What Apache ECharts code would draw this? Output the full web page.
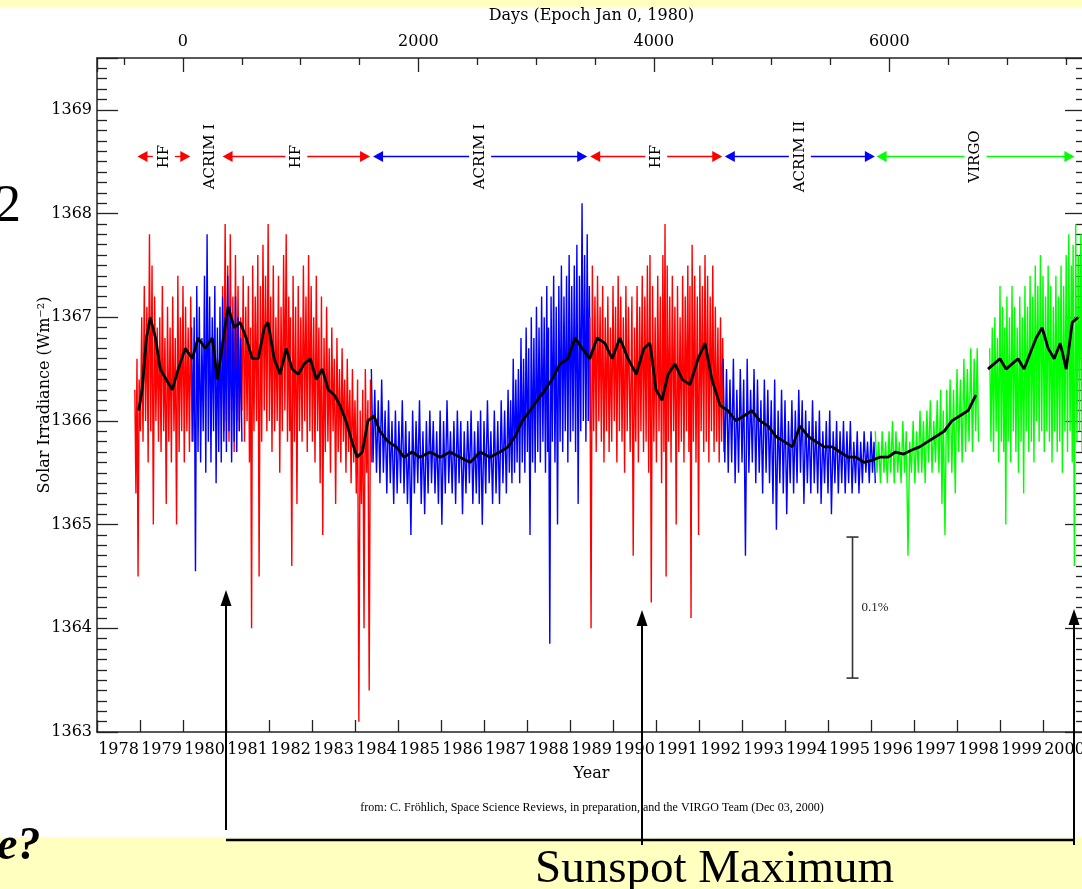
<!DOCTYPE html>
<html>
<head>
<meta charset="utf-8">
<script src="https://cdn.jsdelivr.net/npm/echarts@6/dist/echarts.min.js"></script>
<style>
html,body{margin:0;padding:0;background:#fff;}
#chart{width:1082px;height:889px;}
</style>
</head>
<body>
<div id="chart"></div>
<script>
// ---------- DATA ----------
// daily-value envelopes per instrument segment: [year, high, low]
const hfEarly = [
[1978.88,1366.3,1365.3],[1978.93,1366.6,1364.5],[1978.98,1366.4,1365.9],[1979.04,1367.0,1365.8],
[1979.10,1367.3,1366.0],[1979.16,1367.1,1365.6],[1979.22,1367.8,1365.9],[1979.28,1367.5,1365.0],
[1979.34,1367.2,1366.0],[1979.40,1366.9,1365.8],[1979.46,1367.0,1365.7],[1979.52,1367.3,1365.9],
[1979.58,1366.8,1365.2],[1979.64,1367.1,1365.8],[1979.70,1366.9,1365.6],[1979.76,1367.2,1365.9],
[1979.82,1366.8,1365.0],[1979.88,1367.4,1365.7],[1979.94,1367.0,1365.9],[1980.00,1367.3,1365.6],
[1980.06,1367.1,1365.9],[1980.12,1366.9,1365.7],[1980.18,1367.2,1365.8]
];
const acrimEarly = [
[1980.20,1366.9,1365.8],[1980.26,1367.0,1364.55],[1980.32,1367.3,1365.7],[1980.38,1367.1,1365.6],
[1980.44,1366.8,1365.9],[1980.50,1367.4,1365.5],[1980.56,1367.8,1365.8],[1980.62,1367.2,1365.6],
[1980.68,1367.0,1365.9],[1980.74,1367.3,1365.4],[1980.80,1366.9,1365.7],[1980.86,1367.1,1365.6],
[1980.92,1367.2,1365.8],[1980.98,1367.0,1365.7],[1981.04,1367.4,1365.9],[1981.10,1367.1,1365.6],
[1981.16,1366.9,1365.8],[1981.22,1367.2,1365.7],[1981.28,1367.0,1365.9],[1981.34,1366.8,1365.8]
];
const hfMid = [
[1980.92,1367.3,1365.9],[1980.98,1367.9,1366.0],[1981.04,1367.5,1365.8],[1981.10,1367.8,1366.1],
[1981.16,1367.2,1365.7],[1981.22,1367.6,1366.0],[1981.28,1367.3,1365.9],[1981.34,1367.0,1366.1],
[1981.40,1367.4,1365.8],[1981.46,1367.1,1366.0],[1981.52,1367.3,1365.6],[1981.57,1366.9,1364.0],
[1981.62,1367.5,1365.9],[1981.68,1367.2,1366.0],[1981.74,1367.6,1364.5],[1981.80,1367.3,1365.8],
[1981.86,1367.7,1366.1],[1981.92,1367.4,1365.9],[1981.98,1367.9,1366.0],[1982.04,1367.2,1365.7],
[1982.10,1367.5,1365.9],[1982.16,1367.0,1366.0],[1982.22,1367.4,1365.5],[1982.28,1367.1,1365.9],
[1982.34,1367.6,1366.1],[1982.40,1367.8,1365.8],[1982.46,1367.2,1365.9],[1982.50,1367.0,1364.6],
[1982.56,1367.4,1365.8],[1982.62,1367.1,1365.2],[1982.68,1367.3,1365.9],[1982.74,1367.0,1365.8],
[1982.80,1367.5,1366.0],[1982.86,1367.2,1365.7],[1982.92,1367.6,1365.9],[1982.98,1367.3,1365.8],
[1983.04,1367.0,1365.6],[1983.10,1367.4,1365.9],[1983.16,1366.9,1365.4],[1983.22,1367.2,1364.9],
[1983.28,1366.8,1365.7],[1983.34,1367.1,1365.8],[1983.40,1366.7,1365.5],[1983.46,1366.9,1365.9],
[1983.52,1366.6,1365.2],[1983.58,1366.8,1365.7],[1983.64,1366.5,1365.6],[1983.70,1366.7,1365.8],
[1983.76,1366.4,1365.5],[1983.82,1366.6,1365.7],[1983.88,1366.3,1365.4],[1983.94,1366.5,1365.6],
[1984.00,1366.2,1365.3],[1984.06,1366.4,1363.1],[1984.12,1366.1,1365.2],[1984.18,1366.3,1364.0],
[1984.24,1366.5,1365.5],[1984.30,1366.2,1363.4],[1984.36,1366.4,1365.6]
];
const acrimOne = [
[1984.38,1366.5,1365.6],[1984.46,1366.3,1365.5],[1984.54,1366.2,1365.4],[1984.62,1366.4,1365.5],
[1984.70,1366.1,1365.3],[1984.78,1366.2,1365.4],[1984.86,1366.0,1365.2],[1984.94,1366.1,1365.3],
[1985.02,1366.0,1365.4],[1985.10,1366.2,1365.3],[1985.18,1366.0,1365.2],[1985.26,1365.9,1364.9],
[1985.34,1366.1,1365.3],[1985.42,1366.0,1365.4],[1985.50,1366.2,1365.2],[1985.58,1365.9,1365.1],
[1985.66,1366.0,1365.3],[1985.74,1366.1,1365.4],[1985.82,1366.0,1365.3],[1985.90,1365.9,1365.2],
[1985.98,1366.1,1365.0],[1986.06,1366.0,1365.3],[1986.14,1366.2,1365.4],[1986.22,1365.9,1365.3],
[1986.30,1366.0,1365.2],[1986.38,1366.1,1365.4],[1986.46,1366.0,1365.1],[1986.54,1365.9,1365.3],
[1986.62,1366.0,1365.4],[1986.70,1366.1,1365.2],[1986.78,1365.9,1365.3],[1986.86,1366.0,1365.2],
[1986.92,1366.1,1365.0],[1987.00,1366.0,1365.3],[1987.08,1366.2,1365.4],[1987.16,1365.9,1365.2],
[1987.24,1366.1,1365.3],[1987.32,1366.0,1365.2],[1987.40,1366.2,1365.4],[1987.48,1366.1,1365.3],
[1987.56,1366.3,1365.5],[1987.62,1366.2,1365.4],[1987.68,1366.6,1365.5],[1987.74,1366.4,1365.6],
[1987.80,1366.5,1365.4],[1987.86,1366.8,1365.6],[1987.92,1366.6,1365.5],[1987.98,1366.9,1365.7],
[1988.04,1366.7,1364.9],[1988.10,1367.0,1365.6],[1988.16,1366.8,1365.5],[1988.22,1367.1,1365.7],
[1988.28,1366.9,1365.6],[1988.34,1367.2,1365.8],[1988.40,1367.0,1365.5],[1988.46,1367.3,1365.7],
[1988.50,1366.9,1363.85],[1988.56,1367.2,1365.8],[1988.62,1367.4,1365.6],[1988.68,1367.1,1365.0],
[1988.74,1367.3,1365.8],[1988.80,1367.5,1365.7],[1988.86,1367.2,1365.9],[1988.92,1367.4,1365.6],
[1988.98,1367.6,1365.8],[1989.04,1367.3,1365.9],[1989.10,1367.5,1365.7],[1989.16,1367.7,1365.2],
[1989.22,1367.4,1365.9],[1989.28,1368.1,1366.0],[1989.34,1367.6,1365.8],[1989.40,1367.8,1366.0],
[1989.45,1367.3,1365.9]
];
const hfLate = [
[1989.46,1367.0,1364.0],[1989.52,1367.5,1365.9],[1989.58,1367.2,1365.7],[1989.64,1367.4,1366.0],
[1989.70,1367.1,1365.8],[1989.76,1367.3,1365.6],[1989.82,1367.0,1365.9],[1989.88,1367.2,1365.7],
[1989.94,1366.9,1365.8],[1990.00,1367.3,1366.0],[1990.06,1367.1,1365.6],[1990.12,1367.4,1365.9],
[1990.18,1367.2,1365.8],[1990.24,1367.0,1365.5],[1990.30,1367.3,1365.9],[1990.36,1367.1,1365.7],
[1990.44,1367.2,1364.7],[1990.50,1366.9,1365.8],[1990.56,1367.3,1365.6],[1990.62,1367.1,1365.9],
[1990.68,1367.4,1365.7],[1990.74,1367.2,1365.8],[1990.80,1367.5,1365.5],[1990.86,1367.6,1364.25],
[1990.92,1367.3,1365.8],[1990.98,1367.0,1365.6],[1991.04,1367.4,1365.9],[1991.10,1367.2,1365.4],
[1991.16,1367.6,1365.7],[1991.21,1367.9,1364.5],[1991.26,1367.5,1365.8],[1991.32,1367.2,1365.6],
[1991.38,1367.4,1365.9],[1991.44,1367.1,1365.0],[1991.50,1367.3,1365.7],[1991.56,1367.0,1365.8],
[1991.62,1367.4,1365.6],[1991.68,1367.2,1365.9],[1991.74,1367.5,1365.7],[1991.79,1367.3,1364.1],
[1991.84,1367.7,1365.8],[1991.90,1367.4,1365.6],[1991.96,1367.2,1364.9],[1992.02,1367.5,1365.9],
[1992.08,1367.3,1365.7],[1992.14,1367.6,1365.8],[1992.20,1367.4,1365.6],[1992.26,1367.2,1365.9],
[1992.32,1367.5,1365.7],[1992.38,1367.1,1365.8],[1992.44,1366.9,1365.6],[1992.50,1367.0,1365.8],
[1992.55,1366.8,1365.7]
];
const acrimTwo = [
[1992.56,1366.6,1365.6],[1992.64,1366.5,1365.5],[1992.72,1366.4,1365.6],[1992.80,1366.6,1365.4],
[1992.88,1366.3,1365.5],[1992.96,1366.5,1365.6],[1993.04,1366.4,1364.7],[1993.12,1366.6,1365.5],
[1993.20,1366.3,1365.6],[1993.28,1366.5,1365.4],[1993.36,1366.4,1365.5],[1993.44,1366.2,1365.3],
[1993.52,1366.4,1365.5],[1993.60,1366.3,1365.4],[1993.68,1366.2,1365.2],[1993.76,1366.4,1364.95],
[1993.84,1366.1,1365.4],[1993.92,1366.3,1365.3],[1994.00,1366.2,1365.1],[1994.08,1366.0,1365.4],
[1994.16,1366.2,1365.3],[1994.24,1366.1,1365.4],[1994.32,1366.3,1365.5],[1994.40,1366.2,1365.2],
[1994.48,1366.1,1365.4],[1994.56,1366.0,1365.3],[1994.64,1366.2,1365.4],[1994.72,1366.0,1365.3],
[1994.80,1366.1,1365.2],[1994.88,1365.9,1365.4],[1994.96,1366.0,1365.3],[1995.04,1366.1,1365.1],
[1995.12,1365.9,1365.4],[1995.20,1366.0,1365.3],[1995.28,1365.9,1365.4],[1995.36,1366.0,1365.3],
[1995.44,1365.9,1365.4],[1995.52,1366.0,1365.3],[1995.60,1365.8,1365.4],[1995.68,1365.9,1365.3],
[1995.76,1365.8,1365.4],[1995.84,1365.9,1365.5],[1995.92,1365.8,1365.4],[1996.00,1365.9,1365.5],
[1996.07,1365.8,1365.4]
];
const virgoA = [
[1996.10,1365.9,1365.5],[1996.18,1365.8,1365.4],[1996.26,1365.9,1365.5],[1996.34,1365.8,1365.4],
[1996.42,1365.9,1365.5],[1996.50,1366.0,1365.4],[1996.58,1365.9,1365.5],[1996.66,1365.8,1365.4],
[1996.74,1366.0,1365.5],[1996.82,1365.9,1364.7],[1996.90,1365.8,1365.5],[1996.98,1366.0,1365.4],
[1997.06,1365.9,1365.5],[1997.14,1366.1,1365.5],[1997.22,1366.0,1365.4],[1997.30,1366.1,1365.6],
[1997.38,1366.2,1365.5],[1997.46,1366.0,1365.6],[1997.54,1366.2,1365.5],[1997.62,1366.3,1365.2],
[1997.68,1366.1,1364.9],[1997.76,1366.3,1365.6],[1997.84,1366.4,1365.5],[1997.92,1366.3,1365.3],
[1998.00,1366.5,1365.7],[1998.08,1366.4,1365.6],[1998.16,1366.6,1365.7],[1998.24,1366.5,1365.8],
[1998.32,1366.7,1365.7],[1998.40,1366.6,1365.9],[1998.47,1366.7,1365.8]
];
const virgoB = [
[1998.76,1366.7,1365.8],[1998.82,1366.9,1365.7],[1998.88,1367.0,1365.9],[1998.94,1366.8,1365.6],
[1999.00,1367.3,1365.8],[1999.06,1367.1,1365.7],[1999.11,1366.9,1365.0],[1999.16,1367.2,1365.8],
[1999.22,1367.0,1365.6],[1999.28,1367.3,1365.9],[1999.34,1367.1,1365.7],[1999.40,1366.9,1365.5],
[1999.46,1367.2,1365.8],[1999.52,1367.0,1365.3],[1999.58,1367.3,1365.9],[1999.64,1367.1,1365.7],
[1999.70,1367.4,1365.8],[1999.76,1367.2,1365.6],[1999.82,1367.5,1366.0],[1999.88,1367.3,1365.8],
[1999.94,1367.6,1365.9],[2000.00,1367.4,1365.7],[2000.06,1367.2,1365.9],[2000.12,1367.5,1365.8],
[2000.18,1367.3,1365.6],[2000.24,1367.1,1365.9],[2000.30,1367.4,1365.7],[2000.36,1367.2,1365.8],
[2000.42,1367.5,1365.5],[2000.48,1367.3,1365.9],[2000.54,1367.6,1365.7],[2000.60,1367.8,1365.9],
[2000.66,1367.5,1365.6],[2000.70,1367.7,1364.6],[2000.76,1367.9,1365.8],[2000.82,1367.6,1365.9],
[2000.88,1367.8,1365.7]
];
// 81-day running mean (black), two pieces around the SOHO gap
const meanA = [
[1978.97,1366.1],[1979.05,1366.3],[1979.15,1366.8],[1979.24,1367.0],[1979.36,1366.8],[1979.47,1366.5],
[1979.61,1366.4],[1979.75,1366.3],[1979.89,1366.5],[1980.05,1366.7],[1980.22,1366.6],[1980.35,1366.8],
[1980.52,1366.7],[1980.68,1366.8],[1980.80,1366.4],[1980.94,1366.8],[1981.05,1367.1],[1981.19,1366.9],
[1981.33,1366.95],[1981.47,1366.8],[1981.61,1366.6],[1981.75,1366.6],[1981.89,1366.9],[1981.98,1366.95],
[1982.12,1366.6],[1982.26,1366.45],[1982.40,1366.7],[1982.54,1366.5],[1982.68,1366.45],[1982.82,1366.55],
[1982.96,1366.6],[1983.10,1366.4],[1983.24,1366.5],[1983.38,1366.3],[1983.52,1366.25],[1983.65,1366.15],
[1983.79,1366.0],[1983.93,1365.8],[1984.05,1365.65],[1984.17,1365.7],[1984.30,1366.0],[1984.44,1366.05],
[1984.58,1365.9],[1984.77,1365.8],[1984.96,1365.75],[1985.14,1365.65],[1985.33,1365.7],[1985.51,1365.65],
[1985.75,1365.7],[1985.98,1365.65],[1986.21,1365.7],[1986.44,1365.65],[1986.68,1365.6],[1986.91,1365.7],
[1987.14,1365.65],[1987.37,1365.7],[1987.56,1365.75],[1987.72,1365.85],[1987.89,1366.0],[1988.07,1366.1],
[1988.24,1366.2],[1988.42,1366.3],[1988.58,1366.4],[1988.77,1366.55],[1988.95,1366.6],[1989.12,1366.8],
[1989.28,1366.7],[1989.46,1366.6],[1989.63,1366.8],[1989.81,1366.75],[1989.98,1366.6],[1990.16,1366.8],
[1990.35,1366.6],[1990.54,1366.45],[1990.72,1366.7],[1990.86,1366.75],[1991.00,1366.3],[1991.14,1366.2],
[1991.28,1366.45],[1991.44,1366.55],[1991.61,1366.4],[1991.79,1366.35],[1991.98,1366.6],[1992.14,1366.75],
[1992.30,1366.4],[1992.49,1366.15],[1992.67,1366.1],[1992.86,1366.0],[1993.05,1366.05],[1993.23,1366.1],
[1993.42,1366.0],[1993.61,1365.95],[1993.79,1365.85],[1993.98,1365.8],[1994.17,1365.75],[1994.35,1365.95],
[1994.54,1365.85],[1994.72,1365.8],[1994.91,1365.75],[1995.10,1365.75],[1995.28,1365.7],[1995.47,1365.65],
[1995.65,1365.65],[1995.84,1365.6],[1996.02,1365.62],[1996.20,1365.65],[1996.39,1365.65],[1996.57,1365.7],
[1996.76,1365.68],[1996.95,1365.72],[1997.13,1365.75],[1997.32,1365.8],[1997.51,1365.85],[1997.70,1365.9],
[1997.88,1366.0],[1998.07,1366.05],[1998.26,1366.1],[1998.44,1366.25]
];
const meanB = [
[1998.72,1366.5],[1998.86,1366.55],[1999.00,1366.6],[1999.14,1366.5],[1999.28,1366.55],[1999.42,1366.6],
[1999.56,1366.5],[1999.70,1366.65],[1999.84,1366.8],[1999.98,1366.9],[2000.12,1366.7],[2000.26,1366.6],
[2000.40,1366.75],[2000.54,1366.5],[2000.68,1366.95],[2000.82,1367.0]
];
// instrument periods (top annotation)
const instrumentNames = ['HF','ACRIM I','HF','ACRIM I','HF','ACRIM II','VIRGO'];
const instrumentStart = [1978.94,1980.64,1980.92,1984.42,1989.47,1992.60,1996.13];
const instrumentEnd   = [1980.17,1980.64,1984.35,1989.40,1992.54,1996.09,2000.73];
const instrumentLevel = 1368.55;
// 0.1 % scale bar: [year, low, high]
const scaleBar = [[1995.57,1363.52,1364.88]];
// axes
const yearMin = 1978, yearMax = 2001;
const dayMin = -730, dayMax = 7671;
const irrMin = 1363, irrMax = 1369.5;

// ---------- BUILD ----------
const RED='#ff0000', BLUE='#0000ff', GREEN='#00ff00';
const instrumentColors = [RED, null, RED, BLUE, RED, BLUE, GREEN];

function zigzag(rows){
  const out=[];
  rows.forEach((r,i)=>{
    const next = i<rows.length-1 ? rows[i+1][0] : r[0]+0.06;
    out.push([r[0], r[1]]);
    out.push([(r[0]+next)/2, r[2]]);
  });
  return out;
}
function dataSeries(rows,color){
  return {type:'line', data:zigzag(rows), symbol:'none', silent:true, animation:false,
    lineStyle:{color:color, width:1.4}, z:2};
}
function meanSeries(rows){
  return {type:'line', data:rows, symbol:'none', silent:true, animation:false,
    lineStyle:{color:'#000', width:2.8}, z:3};
}
const SERIF='"DejaVu Serif", serif';

function renderInstrument(params, api){
  const i = params.dataIndex;
  const s = api.value(0), e = api.value(1), lvl = api.value(2);
  const color = instrumentColors[i];
  const p1 = api.coord([s,lvl]), p2 = api.coord([e,lvl]);
  const cx = (p1[0]+p2[0])/2, cy = p1[1];
  const ch = [];
  if (e > s){
    const gap=11, ah=10, aw=5.5;
    ch.push({type:'line', shape:{x1:p1[0]+ah-1,y1:cy,x2:cx-gap,y2:cy}, style:{stroke:color,lineWidth:1.3}});
    ch.push({type:'line', shape:{x1:cx+gap,y1:cy,x2:p2[0]-ah+1,y2:cy}, style:{stroke:color,lineWidth:1.3}});
    ch.push({type:'polygon', shape:{points:[[p1[0],cy],[p1[0]+ah,cy-aw],[p1[0]+ah,cy+aw]]}, style:{fill:color}});
    ch.push({type:'polygon', shape:{points:[[p2[0],cy],[p2[0]-ah,cy-aw],[p2[0]-ah,cy+aw]]}, style:{fill:color}});
  }
  ch.push({type:'text', x:cx, y:cy, rotation:Math.PI/2,
    style:{text:instrumentNames[i], fill:'#000', font:'15px '+SERIF,
      align:'center', verticalAlign:'middle', textAlign:'center', textVerticalAlign:'middle'}});
  return {type:'group', children:ch};
}
function renderScaleBar(params, api){
  const x = api.value(0);
  const lo = api.coord([x, api.value(1)]), hi = api.coord([x, api.value(2)]);
  const st = {stroke:'#333', lineWidth:1.6};
  return {type:'group', children:[
    {type:'line', shape:{x1:lo[0],y1:lo[1],x2:hi[0],y2:hi[1]}, style:st},
    {type:'line', shape:{x1:lo[0]-6,y1:lo[1],x2:lo[0]+6,y2:lo[1]}, style:st},
    {type:'line', shape:{x1:hi[0]-6,y1:hi[1],x2:hi[0]+6,y2:hi[1]}, style:st},
    {type:'text', x:lo[0]+9, y:(lo[1]+hi[1])/2,
      style:{text:'0.1%', fill:'#222', font:'13px "Liberation Serif", serif',
        align:'left', verticalAlign:'middle', textAlign:'left', textVerticalAlign:'middle'}}
  ]};
}

const axisLine = {show:true, onZero:false, lineStyle:{color:'#222', width:1.5}};
const tickStyle = {color:'#222', width:1.3};
const plain = v => String(v);

const option = {
  animation:false,
  backgroundColor:'#fff',
  grid:{left:97, top:58, width:989, height:674, outerBoundsMode:'none', containLabel:false},
  xAxis:[
    {type:'value', position:'bottom', min:yearMin, max:yearMax, interval:1,
     axisLine:axisLine, splitLine:{show:false},
     axisTick:{show:true, inside:true, length:12, lineStyle:tickStyle},
     axisLabel:{show:true, color:'#000', fontFamily:'DejaVu Serif', fontSize:16, margin:10,
       padding:[0,0,0,43], showMinLabel:true, showMaxLabel:true, hideOverlap:false,
       formatter:v => v >= yearMax ? '' : String(v)},
     name:'Year', nameLocation:'middle', nameGap:34, nameMoveOverlap:false,
     nameTextStyle:{color:'#000', fontFamily:'DejaVu Serif', fontSize:16}},
    {type:'value', position:'top', min:dayMin, max:dayMax, splitNumber:4,
     axisLine:axisLine, splitLine:{show:false},
     axisTick:{show:true, inside:true, length:14, lineStyle:tickStyle},
     minorTick:{show:true, splitNumber:4, length:7, lineStyle:tickStyle},
     axisLabel:{show:true, color:'#000', fontFamily:'DejaVu Serif', fontSize:16, margin:8,
       showMinLabel:false, showMaxLabel:false, formatter:plain},
     name:'Days (Epoch Jan 0, 1980)', nameLocation:'middle', nameGap:34, nameMoveOverlap:false,
     nameTextStyle:{color:'#000', fontFamily:'DejaVu Serif', fontSize:16}}
  ],
  yAxis:[
    {type:'value', position:'left', min:irrMin, max:irrMax, interval:1,
     axisLine:axisLine, splitLine:{show:false},
     axisTick:{show:true, inside:true, length:21, lineStyle:tickStyle},
     minorTick:{show:true, splitNumber:10, length:10, lineStyle:tickStyle},
     axisLabel:{show:true, color:'#000', fontFamily:'DejaVu Serif', fontSize:16, margin:5,
       showMinLabel:true, showMaxLabel:false, formatter:plain},
     name:'Solar Irradiance (Wm\u207B\u00B2)', nameLocation:'middle', nameGap:44, nameRotate:90,
     nameMoveOverlap:false,
     nameTextStyle:{color:'#000', fontFamily:'DejaVu Serif', fontSize:16}},
    {type:'value', position:'right', min:irrMin, max:irrMax, interval:1,
     axisLine:axisLine, splitLine:{show:false},
     axisTick:{show:true, inside:true, length:21, lineStyle:tickStyle},
     minorTick:{show:true, splitNumber:10, length:10, lineStyle:tickStyle},
     axisLabel:{show:false}}
  ],
  series:[
    dataSeries(hfEarly, RED),
    dataSeries(hfMid, RED),
    dataSeries(acrimEarly, BLUE),
    dataSeries(acrimOne, BLUE),
    dataSeries(hfLate, RED),
    dataSeries(acrimTwo, BLUE),
    dataSeries(virgoA, GREEN),
    dataSeries(virgoB, GREEN),
    meanSeries(meanA),
    meanSeries(meanB),
    {type:'custom', silent:true, animation:false, z:5,
     data: instrumentNames.map((n,i)=>[instrumentStart[i], instrumentEnd[i], instrumentLevel]),
     renderItem: renderInstrument},
    {type:'custom', silent:true, animation:false, z:5, data:scaleBar, renderItem: renderScaleBar}
  ],
  graphic:[
    {type:'rect', z:0, shape:{x:0,y:0,width:1082,height:7}, style:{fill:'#ffffc0'}},
    {type:'rect', z:0, shape:{x:0,y:837,width:1082,height:52}, style:{fill:'#ffffc0'}},
    {type:'text', z:10, x:592, y:808, style:{text:'from: C. Fröhlich, Space Science Reviews, in preparation, and the VIRGO Team (Dec 03, 2000)',
      fill:'#000', font:'12px "Liberation Serif", serif', align:'center', verticalAlign:'middle', textAlign:'center', textVerticalAlign:'middle'}},
    {type:'text', z:10, x:21, y:233, style:{text:'2', fill:'#000', font:'52px "Liberation Serif", serif',
      align:'right', verticalAlign:'bottom', textAlign:'right', textVerticalAlign:'bottom'}},
    {type:'text', z:10, x:-3, y:870, style:{text:'e?', fill:'#000', font:'italic bold 46px "Liberation Serif", serif',
      align:'left', verticalAlign:'bottom', textAlign:'left', textVerticalAlign:'bottom'}},
    {type:'text', z:10, x:535, y:893, style:{text:'Sunspot Maximum', fill:'#000', font:'47px "Liberation Serif", serif',
      align:'left', verticalAlign:'bottom', textAlign:'left', textVerticalAlign:'bottom'}},
    {type:'line', z:10, shape:{x1:226,y1:600,x2:226,y2:830}, style:{stroke:'#000', lineWidth:2}},
    {type:'polygon', z:10, shape:{points:[[226,590],[220.5,606],[231.5,606]]}, style:{fill:'#000'}},
    {type:'line', z:10, shape:{x1:642,y1:620,x2:642,y2:845}, style:{stroke:'#000', lineWidth:2}},
    {type:'polygon', z:10, shape:{points:[[642,610],[636.5,626],[647.5,626]]}, style:{fill:'#000'}},
    {type:'line', z:10, shape:{x1:1074,y1:620,x2:1074,y2:845}, style:{stroke:'#000', lineWidth:2}},
    {type:'polygon', z:10, shape:{points:[[1074,609],[1068.5,625],[1079.5,625]]}, style:{fill:'#000'}},
    {type:'line', z:10, shape:{x1:226,y1:840,x2:1075,y2:840}, style:{stroke:'#000', lineWidth:2.5}}
  ]
};
const chart = echarts.init(document.getElementById('chart'), null, {renderer:'canvas'});
chart.setOption(option);
</script>
</body>
</html>
